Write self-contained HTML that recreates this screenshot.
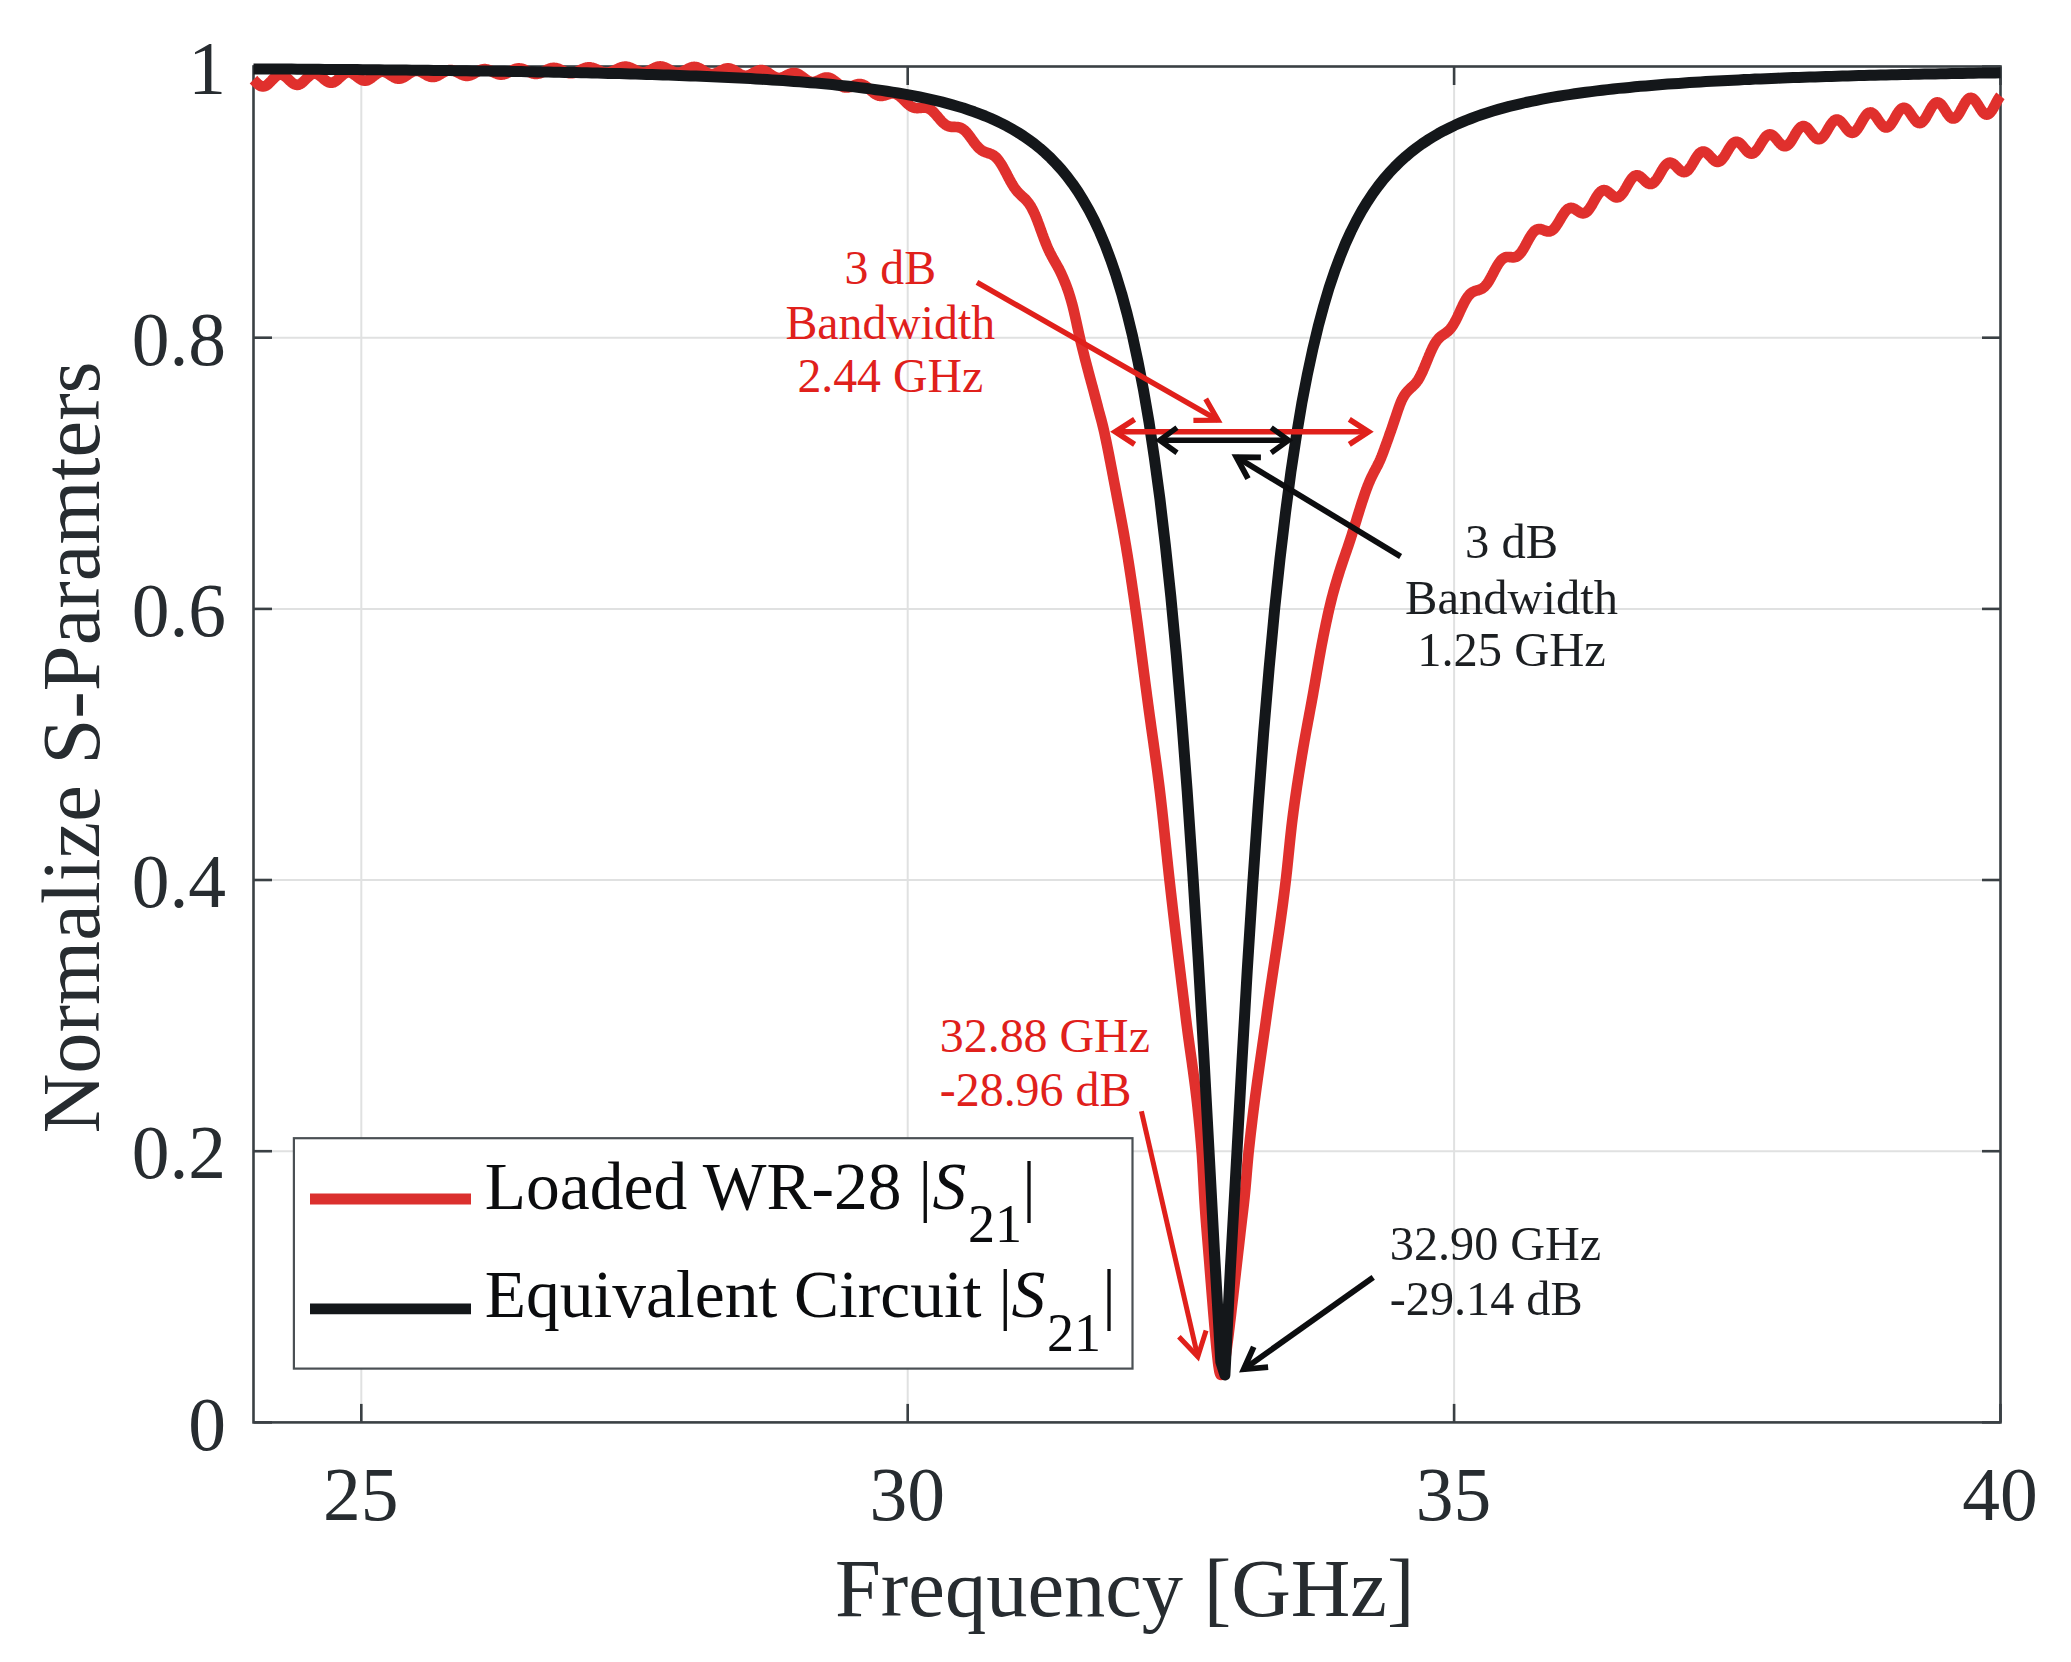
<!DOCTYPE html>
<html><head><meta charset="utf-8"><title>S-Parameters</title>
<style>
html,body{margin:0;padding:0;background:#fff;}
body{width:2071px;height:1662px;overflow:hidden;}
svg{display:block;}
text{font-family:"Liberation Serif","Times New Roman",serif;}
.tk{font-size:75.5px;fill:#272c30;}
.lb{font-size:82.5px;fill:#272c30;}
.lg{font-size:67.5px;fill:#0b0c0e;}
.an{}
</style></head><body>
<svg width="2071" height="1662" viewBox="0 0 2071 1662">
<rect width="2071" height="1662" fill="#fff"/>
<g stroke="#e0e1e1" stroke-width="2"><line x1="361.3" y1="66.5" x2="361.3" y2="1422.4"/><line x1="907.7" y1="66.5" x2="907.7" y2="1422.4"/><line x1="1454.1" y1="66.5" x2="1454.1" y2="1422.4"/><line x1="253.5" y1="1151.2" x2="2000.5" y2="1151.2"/><line x1="253.5" y1="880.0" x2="2000.5" y2="880.0"/><line x1="253.5" y1="608.9" x2="2000.5" y2="608.9"/><line x1="253.5" y1="337.7" x2="2000.5" y2="337.7"/></g>
<g stroke="#3a4044" stroke-width="2.6" fill="none"><rect x="253.5" y="66.5" width="1747.0" height="1355.9"/><line x1="361.3" y1="1422.4" x2="361.3" y2="1403.9"/><line x1="361.3" y1="66.5" x2="361.3" y2="85.0"/><line x1="907.7" y1="1422.4" x2="907.7" y2="1403.9"/><line x1="907.7" y1="66.5" x2="907.7" y2="85.0"/><line x1="1454.1" y1="1422.4" x2="1454.1" y2="1403.9"/><line x1="1454.1" y1="66.5" x2="1454.1" y2="85.0"/><line x1="2000.5" y1="1422.4" x2="2000.5" y2="1403.9"/><line x1="2000.5" y1="66.5" x2="2000.5" y2="85.0"/><line x1="253.5" y1="1422.4" x2="272.0" y2="1422.4"/><line x1="2000.5" y1="1422.4" x2="1982.0" y2="1422.4"/><line x1="253.5" y1="1151.2" x2="272.0" y2="1151.2"/><line x1="2000.5" y1="1151.2" x2="1982.0" y2="1151.2"/><line x1="253.5" y1="880.0" x2="272.0" y2="880.0"/><line x1="2000.5" y1="880.0" x2="1982.0" y2="880.0"/><line x1="253.5" y1="608.9" x2="272.0" y2="608.9"/><line x1="2000.5" y1="608.9" x2="1982.0" y2="608.9"/><line x1="253.5" y1="337.7" x2="272.0" y2="337.7"/><line x1="2000.5" y1="337.7" x2="1982.0" y2="337.7"/><line x1="253.5" y1="66.5" x2="272.0" y2="66.5"/><line x1="2000.5" y1="66.5" x2="1982.0" y2="66.5"/></g>
<text class="tk" x="360.8" y="1519.8" text-anchor="middle">25</text>
<text class="tk" x="907.2" y="1519.8" text-anchor="middle">30</text>
<text class="tk" x="1453.6" y="1519.8" text-anchor="middle">35</text>
<text class="tk" x="2000.0" y="1519.8" text-anchor="middle">40</text>
<text class="tk" x="226.1" y="1449.6" text-anchor="end">0</text>
<text class="tk" x="226.1" y="1178.4" text-anchor="end">0.2</text>
<text class="tk" x="226.1" y="907.2" text-anchor="end">0.4</text>
<text class="tk" x="226.1" y="636.1" text-anchor="end">0.6</text>
<text class="tk" x="226.1" y="364.9" text-anchor="end">0.8</text>
<text class="tk" x="226.1" y="93.7" text-anchor="end">1</text>
<text class="lb" x="1124.7" y="1616" text-anchor="middle">Frequency [GHz]</text>
<text class="lb" transform="translate(98.6,747.3) rotate(-90)" text-anchor="middle">Normalize S-Paramters</text>
<polyline points="253.5,79.6 254.0,80.1 254.5,80.7 255.0,81.2 255.5,81.7 256.0,82.3 256.5,82.8 257.0,83.3 257.5,83.7 258.0,84.2 258.5,84.6 259.0,84.9 259.5,85.3 260.0,85.6 260.5,85.8 261.0,86.1 261.5,86.2 262.0,86.4 262.5,86.4 263.0,86.5 263.5,86.4 264.0,86.4 264.5,86.2 265.0,86.1 265.5,85.9 266.0,85.6 266.5,85.3 267.0,85.0 267.5,84.6 268.0,84.2 268.5,83.7 269.0,83.3 269.5,82.8 270.0,82.3 270.5,81.8 271.0,81.2 271.5,80.7 272.0,80.1 272.5,79.6 273.0,79.1 273.5,78.6 274.0,78.1 274.5,77.6 275.0,77.1 275.5,76.7 276.0,76.3 276.5,75.9 277.0,75.6 277.5,75.3 278.0,75.1 278.5,74.9 279.0,74.7 279.5,74.6 280.0,74.5 280.5,74.5 281.0,74.5 281.5,74.6 282.0,74.7 282.5,74.9 283.0,75.1 283.5,75.4 284.0,75.6 284.5,76.0 285.0,76.3 285.5,76.7 286.0,77.1 286.5,77.5 287.0,78.0 287.5,78.5 288.0,78.9 288.5,79.4 289.0,79.9 289.5,80.4 290.0,80.9 290.5,81.3 291.0,81.8 291.5,82.2 292.0,82.6 292.5,83.0 293.0,83.4 293.5,83.7 294.0,84.0 294.5,84.2 295.0,84.4 295.5,84.6 296.0,84.7 296.5,84.8 297.0,84.8 297.5,84.8 298.0,84.8 298.5,84.7 299.0,84.5 299.5,84.3 300.0,84.1 300.5,83.8 301.0,83.5 301.5,83.2 302.0,82.8 302.5,82.4 303.0,82.0 303.5,81.5 304.0,81.0 304.5,80.5 305.0,80.0 305.5,79.5 306.0,79.0 306.5,78.5 307.0,78.0 307.5,77.5 308.0,77.1 308.5,76.6 309.0,76.2 309.5,75.8 310.0,75.4 310.5,75.0 311.0,74.7 311.5,74.4 312.0,74.2 312.5,74.0 313.0,73.8 313.5,73.7 314.0,73.6 314.5,73.5 315.0,73.6 315.5,73.6 316.0,73.7 316.5,73.8 317.0,74.0 317.5,74.2 318.0,74.5 318.5,74.8 319.0,75.1 319.5,75.4 320.0,75.8 320.5,76.2 321.0,76.6 321.5,77.0 322.0,77.4 322.5,77.8 323.0,78.3 323.5,78.7 324.0,79.2 324.5,79.6 325.0,80.0 325.5,80.4 326.0,80.7 326.5,81.1 327.0,81.4 327.5,81.7 328.0,82.0 328.5,82.2 329.0,82.4 329.5,82.5 330.0,82.6 330.5,82.7 331.0,82.7 331.5,82.7 332.0,82.7 332.5,82.6 333.0,82.4 333.5,82.3 334.0,82.0 334.5,81.8 335.0,81.5 335.5,81.2 336.0,80.8 336.5,80.5 337.0,80.1 337.5,79.7 338.0,79.2 338.5,78.8 339.0,78.3 339.5,77.8 340.0,77.4 340.5,76.9 341.0,76.5 341.5,76.0 342.0,75.6 342.5,75.1 343.0,74.7 343.5,74.4 344.0,74.0 344.5,73.7 345.0,73.4 345.5,73.1 346.0,72.9 346.5,72.7 347.0,72.6 347.5,72.5 348.0,72.4 348.5,72.4 349.0,72.4 349.5,72.4 350.0,72.5 350.5,72.6 351.0,72.8 351.5,73.0 352.0,73.2 352.5,73.5 353.0,73.8 353.5,74.1 354.0,74.4 354.5,74.8 355.0,75.2 355.5,75.5 356.0,75.9 356.5,76.3 357.0,76.7 357.5,77.1 358.0,77.5 358.5,77.9 359.0,78.2 359.5,78.6 360.0,78.9 360.5,79.2 361.0,79.5 361.5,79.8 362.0,80.0 362.5,80.2 363.0,80.3 363.5,80.5 364.0,80.6 364.5,80.6 365.0,80.6 365.5,80.6 366.0,80.6 366.5,80.5 367.0,80.3 367.5,80.2 368.0,80.0 368.5,79.7 369.0,79.5 369.5,79.2 370.0,78.9 370.5,78.5 371.0,78.2 371.5,77.8 372.0,77.4 372.5,77.0 373.0,76.6 373.5,76.2 374.0,75.8 374.5,75.4 375.0,75.0 375.5,74.7 376.0,74.3 376.5,73.9 377.0,73.6 377.5,73.3 378.0,73.0 378.5,72.7 379.0,72.5 379.5,72.3 380.0,72.1 380.5,71.9 381.0,71.8 381.5,71.7 382.0,71.7 382.5,71.7 383.0,71.7 383.5,71.8 384.0,71.8 384.5,72.0 385.0,72.1 385.5,72.3 386.0,72.5 386.5,72.7 387.0,73.0 387.5,73.2 388.0,73.5 388.5,73.8 389.0,74.1 389.5,74.5 390.0,74.8 390.5,75.1 391.0,75.5 391.5,75.8 392.0,76.1 392.5,76.4 393.0,76.7 393.5,77.0 394.0,77.3 394.5,77.6 395.0,77.8 395.5,78.0 396.0,78.2 396.5,78.3 397.0,78.5 397.5,78.6 398.0,78.6 398.5,78.7 399.0,78.7 399.5,78.6 400.0,78.6 400.5,78.5 401.0,78.4 401.5,78.2 402.0,78.0 402.5,77.8 403.0,77.6 403.5,77.3 404.0,77.1 404.5,76.8 405.0,76.5 405.5,76.1 406.0,75.8 406.5,75.5 407.0,75.1 407.5,74.8 408.0,74.4 408.5,74.1 409.0,73.7 409.5,73.4 410.0,73.1 410.5,72.8 411.0,72.5 411.5,72.2 412.0,72.0 412.5,71.7 413.0,71.5 413.5,71.4 414.0,71.2 414.5,71.1 415.0,71.0 415.5,70.9 416.0,70.9 416.5,70.9 417.0,70.9 417.5,70.9 418.0,71.0 418.5,71.1 419.0,71.2 419.5,71.4 420.0,71.6 420.5,71.8 421.0,72.0 421.5,72.2 422.0,72.5 422.5,72.7 423.0,73.0 423.5,73.3 424.0,73.6 424.5,73.9 425.0,74.2 425.5,74.5 426.0,74.7 426.5,75.0 427.0,75.3 427.5,75.5 428.0,75.8 428.5,76.0 429.0,76.2 429.5,76.4 430.0,76.5 430.5,76.7 431.0,76.8 431.5,76.8 432.0,76.9 432.5,76.9 433.0,76.9 433.5,76.9 434.0,76.9 434.5,76.8 435.0,76.7 435.5,76.5 436.0,76.4 436.5,76.2 437.0,76.0 437.5,75.8 438.0,75.5 438.5,75.3 439.0,75.0 439.5,74.7 440.0,74.4 440.5,74.1 441.0,73.8 441.5,73.5 442.0,73.2 442.5,72.9 443.0,72.6 443.5,72.3 444.0,72.0 444.5,71.8 445.0,71.5 445.5,71.3 446.0,71.0 446.5,70.8 447.0,70.6 447.5,70.5 448.0,70.4 448.5,70.2 449.0,70.2 449.5,70.1 450.0,70.1 450.5,70.1 451.0,70.1 451.5,70.1 452.0,70.2 452.5,70.3 453.0,70.4 453.5,70.6 454.0,70.7 454.5,70.9 455.0,71.1 455.5,71.3 456.0,71.6 456.5,71.8 457.0,72.1 457.5,72.4 458.0,72.6 458.5,72.9 459.0,73.2 459.5,73.4 460.0,73.7 460.5,74.0 461.0,74.2 461.5,74.5 462.0,74.7 462.5,74.9 463.0,75.1 463.5,75.3 464.0,75.4 464.5,75.6 465.0,75.7 465.5,75.8 466.0,75.8 466.5,75.9 467.0,75.9 467.5,75.8 468.0,75.8 468.5,75.7 469.0,75.6 469.5,75.5 470.0,75.4 470.5,75.2 471.0,75.0 471.5,74.8 472.0,74.6 472.5,74.3 473.0,74.1 473.5,73.8 474.0,73.5 474.5,73.3 475.0,73.0 475.5,72.7 476.0,72.4 476.5,72.1 477.0,71.8 477.5,71.5 478.0,71.2 478.5,71.0 479.0,70.7 479.5,70.5 480.0,70.2 480.5,70.0 481.0,69.9 481.5,69.7 482.0,69.5 482.5,69.4 483.0,69.3 483.5,69.3 484.0,69.2 484.5,69.2 485.0,69.2 485.5,69.2 486.0,69.3 486.5,69.4 487.0,69.5 487.5,69.6 488.0,69.7 488.5,69.9 489.0,70.1 489.5,70.3 490.0,70.5 490.5,70.7 491.0,71.0 491.5,71.2 492.0,71.5 492.5,71.7 493.0,72.0 493.5,72.2 494.0,72.5 494.5,72.7 495.0,73.0 495.5,73.2 496.0,73.4 496.5,73.6 497.0,73.8 497.5,74.0 498.0,74.1 498.5,74.3 499.0,74.4 499.5,74.5 500.0,74.6 500.5,74.6 501.0,74.6 501.5,74.6 502.0,74.6 502.5,74.5 503.0,74.5 503.5,74.4 504.0,74.2 504.5,74.1 505.0,73.9 505.5,73.8 506.0,73.6 506.5,73.3 507.0,73.1 507.5,72.9 508.0,72.6 508.5,72.4 509.0,72.1 509.5,71.8 510.0,71.5 510.5,71.3 511.0,71.0 511.5,70.7 512.0,70.5 512.5,70.2 513.0,70.0 513.5,69.7 514.0,69.5 514.5,69.3 515.0,69.1 515.5,69.0 516.0,68.8 516.5,68.7 517.0,68.6 517.5,68.5 518.0,68.4 518.5,68.4 519.0,68.4 519.5,68.4 520.0,68.5 520.5,68.5 521.0,68.6 521.5,68.7 522.0,68.8 522.5,69.0 523.0,69.2 523.5,69.3 524.0,69.5 524.5,69.8 525.0,70.0 525.5,70.2 526.0,70.5 526.5,70.7 527.0,71.0 527.5,71.2 528.0,71.5 528.5,71.7 529.0,72.0 529.5,72.2 530.0,72.4 530.5,72.6 531.0,72.8 531.5,73.0 532.0,73.2 532.5,73.4 533.0,73.5 533.5,73.6 534.0,73.7 534.5,73.8 535.0,73.9 535.5,73.9 536.0,73.9 536.5,73.9 537.0,73.8 537.5,73.8 538.0,73.7 538.5,73.6 539.0,73.5 539.5,73.3 540.0,73.2 540.5,73.0 541.0,72.8 541.5,72.6 542.0,72.3 542.5,72.1 543.0,71.8 543.5,71.6 544.0,71.3 544.5,71.1 545.0,70.8 545.5,70.5 546.0,70.3 546.5,70.0 547.0,69.8 547.5,69.5 548.0,69.3 548.5,69.1 549.0,68.9 549.5,68.7 550.0,68.5 550.5,68.4 551.0,68.2 551.5,68.1 552.0,68.0 552.5,68.0 553.0,67.9 553.5,67.9 554.0,67.9 554.5,67.9 555.0,68.0 555.5,68.0 556.0,68.1 556.5,68.2 557.0,68.4 557.5,68.5 558.0,68.7 558.5,68.8 559.0,69.0 559.5,69.2 560.0,69.5 560.5,69.7 561.0,69.9 561.5,70.2 562.0,70.4 562.5,70.6 563.0,70.9 563.5,71.1 564.0,71.4 564.5,71.6 565.0,71.8 565.5,72.0 566.0,72.2 566.5,72.4 567.0,72.6 567.5,72.7 568.0,72.9 568.5,73.0 569.0,73.1 569.5,73.2 570.0,73.2 570.5,73.2 571.0,73.2 571.5,73.2 572.0,73.2 572.5,73.1 573.0,73.1 573.5,73.0 574.0,72.8 574.5,72.7 575.0,72.6 575.5,72.4 576.0,72.2 576.5,72.0 577.0,71.8 577.5,71.5 578.0,71.3 578.5,71.1 579.0,70.8 579.5,70.5 580.0,70.3 580.5,70.0 581.0,69.8 581.5,69.5 582.0,69.3 582.5,69.0 583.0,68.8 583.5,68.6 584.0,68.4 584.5,68.2 585.0,68.0 585.5,67.9 586.0,67.7 586.5,67.6 587.0,67.5 587.5,67.4 588.0,67.4 588.5,67.3 589.0,67.3 589.5,67.3 590.0,67.3 590.5,67.4 591.0,67.5 591.5,67.5 592.0,67.7 592.5,67.8 593.0,67.9 593.5,68.1 594.0,68.3 594.5,68.5 595.0,68.7 595.5,68.9 596.0,69.1 596.5,69.3 597.0,69.6 597.5,69.8 598.0,70.0 598.5,70.3 599.0,70.5 599.5,70.7 600.0,70.9 600.5,71.2 601.0,71.4 601.5,71.6 602.0,71.7 602.5,71.9 603.0,72.1 603.5,72.2 604.0,72.3 604.5,72.4 605.0,72.5 605.5,72.6 606.0,72.6 606.5,72.6 607.0,72.6 607.5,72.6 608.0,72.5 608.5,72.5 609.0,72.4 609.5,72.3 610.0,72.1 610.5,72.0 611.0,71.8 611.5,71.7 612.0,71.5 612.5,71.3 613.0,71.1 613.5,70.9 614.0,70.6 614.5,70.4 615.0,70.2 615.5,69.9 616.0,69.7 616.5,69.4 617.0,69.2 617.5,68.9 618.0,68.7 618.5,68.5 619.0,68.2 619.5,68.0 620.0,67.8 620.5,67.6 621.0,67.5 621.5,67.3 622.0,67.2 622.5,67.0 623.0,66.9 623.5,66.8 624.0,66.8 624.5,66.7 625.0,66.7 625.5,66.7 626.0,66.7 626.5,66.7 627.0,66.8 627.5,66.9 628.0,67.0 628.5,67.1 629.0,67.2 629.5,67.4 630.0,67.6 630.5,67.8 631.0,68.0 631.5,68.2 632.0,68.4 632.5,68.6 633.0,68.9 633.5,69.1 634.0,69.4 634.5,69.6 635.0,69.9 635.5,70.1 636.0,70.4 636.5,70.6 637.0,70.8 637.5,71.1 638.0,71.3 638.5,71.5 639.0,71.6 639.5,71.8 640.0,71.9 640.5,72.1 641.0,72.2 641.5,72.2 642.0,72.3 642.5,72.3 643.0,72.3 643.5,72.3 644.0,72.3 644.5,72.2 645.0,72.1 645.5,72.0 646.0,71.9 646.5,71.8 647.0,71.6 647.5,71.4 648.0,71.2 648.5,71.0 649.0,70.8 649.5,70.5 650.0,70.3 650.5,70.0 651.0,69.8 651.5,69.5 652.0,69.2 652.5,69.0 653.0,68.7 653.5,68.5 654.0,68.2 654.5,68.0 655.0,67.7 655.5,67.5 656.0,67.3 656.5,67.1 657.0,67.0 657.5,66.8 658.0,66.7 658.5,66.6 659.0,66.5 659.5,66.5 660.0,66.4 660.5,66.4 661.0,66.5 661.5,66.5 662.0,66.6 662.5,66.7 663.0,66.8 663.5,66.9 664.0,67.1 664.5,67.3 665.0,67.5 665.5,67.7 666.0,67.9 666.5,68.2 667.0,68.4 667.5,68.7 668.0,69.0 668.5,69.2 669.0,69.5 669.5,69.8 670.0,70.1 670.5,70.4 671.0,70.6 671.5,70.9 672.0,71.2 672.5,71.4 673.0,71.6 673.5,71.8 674.0,72.0 674.5,72.2 675.0,72.4 675.5,72.5 676.0,72.6 676.5,72.7 677.0,72.7 677.5,72.7 678.0,72.7 678.5,72.7 679.0,72.7 679.5,72.6 680.0,72.5 680.5,72.4 681.0,72.2 681.5,72.1 682.0,71.9 682.5,71.7 683.0,71.5 683.5,71.2 684.0,71.0 684.5,70.7 685.0,70.4 685.5,70.2 686.0,69.9 686.5,69.6 687.0,69.4 687.5,69.1 688.0,68.8 688.5,68.6 689.0,68.3 689.5,68.1 690.0,67.9 690.5,67.7 691.0,67.5 691.5,67.4 692.0,67.2 692.5,67.1 693.0,67.0 693.5,67.0 694.0,66.9 694.5,66.9 695.0,67.0 695.5,67.0 696.0,67.1 696.5,67.2 697.0,67.3 697.5,67.5 698.0,67.7 698.5,67.9 699.0,68.1 699.5,68.3 700.0,68.6 700.5,68.9 701.0,69.2 701.5,69.5 702.0,69.8 702.5,70.1 703.0,70.4 703.5,70.7 704.0,71.1 704.5,71.4 705.0,71.7 705.5,72.0 706.0,72.3 706.5,72.5 707.0,72.8 707.5,73.0 708.0,73.2 708.5,73.4 709.0,73.6 709.5,73.8 710.0,73.9 710.5,74.0 711.0,74.0 711.5,74.1 712.0,74.1 712.5,74.1 713.0,74.0 713.5,74.0 714.0,73.9 714.5,73.7 715.0,73.6 715.5,73.4 716.0,73.2 716.5,73.0 717.0,72.8 717.5,72.6 718.0,72.3 718.5,72.0 719.0,71.8 719.5,71.5 720.0,71.2 720.5,70.9 721.0,70.7 721.5,70.4 722.0,70.1 722.5,69.9 723.0,69.6 723.5,69.4 724.0,69.2 724.5,69.0 725.0,68.8 725.5,68.7 726.0,68.6 726.5,68.5 727.0,68.4 727.5,68.4 728.0,68.4 728.5,68.4 729.0,68.4 729.5,68.5 730.0,68.6 730.5,68.7 731.0,68.9 731.5,69.1 732.0,69.3 732.5,69.5 733.0,69.8 733.5,70.0 734.0,70.3 734.5,70.6 735.0,70.9 735.5,71.3 736.0,71.6 736.5,71.9 737.0,72.3 737.5,72.6 738.0,72.9 738.5,73.2 739.0,73.6 739.5,73.9 740.0,74.1 740.5,74.4 741.0,74.7 741.5,74.9 742.0,75.1 742.5,75.3 743.0,75.4 743.5,75.6 744.0,75.7 744.5,75.7 745.0,75.8 745.5,75.8 746.0,75.8 746.5,75.8 747.0,75.7 747.5,75.6 748.0,75.5 748.5,75.3 749.0,75.1 749.5,74.9 750.0,74.7 750.5,74.5 751.0,74.3 751.5,74.0 752.0,73.7 752.5,73.5 753.0,73.2 753.5,72.9 754.0,72.6 754.5,72.3 755.0,72.1 755.5,71.8 756.0,71.5 756.5,71.3 757.0,71.1 757.5,70.9 758.0,70.7 758.5,70.5 759.0,70.4 759.5,70.3 760.0,70.2 760.5,70.1 761.0,70.1 761.5,70.1 762.0,70.1 762.5,70.2 763.0,70.3 763.5,70.4 764.0,70.6 764.5,70.8 765.0,71.0 765.5,71.2 766.0,71.4 766.5,71.7 767.0,72.0 767.5,72.3 768.0,72.6 768.5,72.9 769.0,73.3 769.5,73.6 770.0,74.0 770.5,74.3 771.0,74.7 771.5,75.0 772.0,75.4 772.5,75.7 773.0,76.0 773.5,76.3 774.0,76.6 774.5,76.8 775.0,77.0 775.5,77.3 776.0,77.4 776.5,77.6 777.0,77.7 777.5,77.8 778.0,77.9 778.5,78.0 779.0,78.0 779.5,78.0 780.0,77.9 780.5,77.9 781.0,77.8 781.5,77.6 782.0,77.5 782.5,77.3 783.0,77.1 783.5,76.9 784.0,76.7 784.5,76.5 785.0,76.2 785.5,76.0 786.0,75.7 786.5,75.5 787.0,75.2 787.5,74.9 788.0,74.7 788.5,74.4 789.0,74.2 789.5,74.0 790.0,73.8 790.5,73.6 791.0,73.4 791.5,73.3 792.0,73.2 792.5,73.1 793.0,73.0 793.5,73.0 794.0,73.0 794.5,73.0 795.0,73.0 795.5,73.1 796.0,73.2 796.5,73.4 797.0,73.5 797.5,73.7 798.0,74.0 798.5,74.2 799.0,74.5 799.5,74.8 800.0,75.1 800.5,75.5 801.0,75.8 801.5,76.2 802.0,76.5 802.5,76.9 803.0,77.3 803.5,77.7 804.0,78.1 804.5,78.4 805.0,78.8 805.5,79.2 806.0,79.5 806.5,79.9 807.0,80.2 807.5,80.5 808.0,80.8 808.5,81.0 809.0,81.2 809.5,81.4 810.0,81.6 810.5,81.7 811.0,81.9 811.5,81.9 812.0,82.0 812.5,82.0 813.0,82.0 813.5,82.0 814.0,81.9 814.5,81.8 815.0,81.7 815.5,81.6 816.0,81.4 816.5,81.2 817.0,81.1 817.5,80.8 818.0,80.6 818.5,80.4 819.0,80.1 819.5,79.9 820.0,79.7 820.5,79.4 821.0,79.2 821.5,78.9 822.0,78.7 822.5,78.5 823.0,78.3 823.5,78.1 824.0,78.0 824.5,77.8 825.0,77.7 825.5,77.6 826.0,77.6 826.5,77.5 827.0,77.5 827.5,77.6 828.0,77.6 828.5,77.7 829.0,77.8 829.5,78.0 830.0,78.1 830.5,78.3 831.0,78.6 831.5,78.8 832.0,79.1 832.5,79.4 833.0,79.8 833.5,80.1 834.0,80.5 834.5,80.8 835.0,81.2 835.5,81.6 836.0,82.0 836.5,82.4 837.0,82.8 837.5,83.2 838.0,83.6 838.5,84.0 839.0,84.4 839.5,84.8 840.0,85.1 840.5,85.5 841.0,85.8 841.5,86.1 842.0,86.3 842.5,86.6 843.0,86.8 843.5,87.0 844.0,87.2 844.5,87.3 845.0,87.4 845.5,87.5 846.0,87.5 846.5,87.5 847.0,87.5 847.5,87.5 848.0,87.4 848.5,87.3 849.0,87.2 849.5,87.1 850.0,87.0 850.5,86.8 851.0,86.6 851.5,86.4 852.0,86.2 852.5,86.0 853.0,85.8 853.5,85.6 854.0,85.4 854.5,85.2 855.0,85.0 855.5,84.9 856.0,84.7 856.5,84.5 857.0,84.4 857.5,84.3 858.0,84.2 858.5,84.1 859.0,84.1 859.5,84.0 860.0,84.1 860.5,84.1 861.0,84.2 861.5,84.3 862.0,84.4 862.5,84.5 863.0,84.7 863.5,84.9 864.0,85.2 864.5,85.4 865.0,85.7 865.5,86.1 866.0,86.4 866.5,86.8 867.0,87.2 867.5,87.6 868.0,88.0 868.5,88.4 869.0,88.8 869.5,89.3 870.0,89.7 870.5,90.2 871.0,90.6 871.5,91.1 872.0,91.5 872.5,91.9 873.0,92.3 873.5,92.8 874.0,93.1 874.5,93.5 875.0,93.8 875.5,94.2 876.0,94.5 876.5,94.7 877.0,95.0 877.5,95.2 878.0,95.4 878.5,95.5 879.0,95.7 879.5,95.8 880.0,95.8 880.5,95.9 881.0,95.9 881.5,95.9 882.0,95.9 882.5,95.8 883.0,95.7 883.5,95.6 884.0,95.5 884.5,95.4 885.0,95.3 885.5,95.1 886.0,94.9 886.5,94.8 887.0,94.6 887.5,94.4 888.0,94.3 888.5,94.1 889.0,94.0 889.5,93.8 890.0,93.7 890.5,93.6 891.0,93.5 891.5,93.5 892.0,93.4 892.5,93.4 893.0,93.4 893.5,93.4 894.0,93.5 894.5,93.6 895.0,93.7 895.5,93.9 896.0,94.0 896.5,94.2 897.0,94.5 897.5,94.8 898.0,95.1 898.5,95.4 899.0,95.7 899.5,96.1 900.0,96.5 900.5,96.9 901.0,97.4 901.5,97.8 902.0,98.3 902.5,98.8 903.0,99.3 903.5,99.8 904.0,100.3 904.5,100.8 905.0,101.3 905.5,101.8 906.0,102.3 906.5,102.7 907.0,103.2 907.5,103.7 908.0,104.1 908.5,104.5 909.0,104.9 909.5,105.3 910.0,105.7 910.5,106.0 911.0,106.3 911.5,106.6 912.0,106.8 912.5,107.1 913.0,107.3 913.5,107.5 914.0,107.6 914.5,107.8 915.0,107.9 915.5,108.0 916.0,108.0 916.5,108.1 917.0,108.1 917.5,108.1 918.0,108.1 918.5,108.0 919.0,108.0 919.5,108.0 920.0,107.9 920.5,107.9 921.0,107.8 921.5,107.7 922.0,107.7 922.5,107.7 923.0,107.6 923.5,107.6 924.0,107.6 924.5,107.6 925.0,107.6 925.5,107.7 926.0,107.7 926.5,107.8 927.0,107.9 927.5,108.1 928.0,108.3 928.5,108.5 929.0,108.7 929.5,109.0 930.0,109.2 930.5,109.6 931.0,109.9 931.5,110.3 932.0,110.7 932.5,111.1 933.0,111.6 933.5,112.1 934.0,112.6 934.5,113.1 935.0,113.7 935.5,114.2 936.0,114.8 936.5,115.4 937.0,116.0 937.5,116.6 938.0,117.1 938.5,117.7 939.0,118.3 939.5,118.9 940.0,119.5 940.5,120.1 941.0,120.6 941.5,121.2 942.0,121.7 942.5,122.2 943.0,122.7 943.5,123.1 944.0,123.5 944.5,123.9 945.0,124.3 945.5,124.7 946.0,125.0 946.5,125.3 947.0,125.6 947.5,125.8 948.0,126.0 948.5,126.2 949.0,126.4 949.5,126.5 950.0,126.6 950.5,126.7 951.0,126.8 951.5,126.8 952.0,126.9 952.5,126.9 953.0,126.9 953.5,126.9 954.0,126.9 954.5,126.9 955.0,126.9 955.5,127.0 956.0,127.0 956.5,127.0 957.0,127.0 957.5,127.1 958.0,127.2 958.5,127.2 959.0,127.4 959.5,127.5 960.0,127.6 960.5,127.8 961.0,128.0 961.5,128.3 962.0,128.5 962.5,128.8 963.0,129.2 963.5,129.5 964.0,129.9 964.5,130.4 965.0,130.8 965.5,131.3 966.0,131.8 966.5,132.4 967.0,132.9 967.5,133.5 968.0,134.1 968.5,134.7 969.0,135.4 969.5,136.1 970.0,136.7 970.5,137.4 971.0,138.1 971.5,138.8 972.0,139.5 972.5,140.2 973.0,140.9 973.5,141.6 974.0,142.3 974.5,142.9 975.0,143.6 975.5,144.2 976.0,144.8 976.5,145.4 977.0,146.0 977.5,146.6 978.0,147.1 978.5,147.6 979.0,148.1 979.5,148.6 980.0,149.0 980.5,149.4 981.0,149.8 981.5,150.2 982.0,150.5 982.5,150.8 983.0,151.1 983.5,151.3 984.0,151.6 984.5,151.8 985.0,152.0 985.5,152.2 986.0,152.4 986.5,152.5 987.0,152.7 987.5,152.9 988.0,153.0 988.5,153.2 989.0,153.3 989.5,153.5 990.0,153.7 990.5,153.9 991.0,154.1 991.5,154.3 992.0,154.5 992.5,154.8 993.0,155.1 993.5,155.4 994.0,155.7 994.5,156.1 995.0,156.5 995.5,156.9 996.0,157.4 996.5,157.9 997.0,158.4 997.5,159.0 998.0,159.6 998.5,160.2 999.0,160.8 999.5,161.5 1000.0,162.3 1000.5,163.0 1001.0,163.8 1001.5,164.6 1002.0,165.4 1002.5,166.3 1003.0,167.2 1003.5,168.1 1004.0,169.0 1004.5,169.9 1005.0,170.8 1005.5,171.8 1006.0,172.7 1006.5,173.7 1007.0,174.6 1007.5,175.6 1008.0,176.6 1008.5,177.5 1009.0,178.5 1009.5,179.4 1010.0,180.3 1010.5,181.3 1011.0,182.2 1011.5,183.0 1012.0,183.9 1012.5,184.7 1013.0,185.5 1013.5,186.3 1014.0,187.1 1014.5,187.8 1015.0,188.5 1015.5,189.2 1016.0,189.9 1016.5,190.5 1017.0,191.1 1017.5,191.7 1018.0,192.3 1018.5,192.8 1019.0,193.3 1019.5,193.8 1020.0,194.3 1020.5,194.8 1021.0,195.3 1021.5,195.7 1022.0,196.2 1022.5,196.6 1023.0,197.1 1023.5,197.5 1024.0,198.0 1024.5,198.4 1025.0,198.9 1025.5,199.4 1026.0,199.9 1026.5,200.5 1027.0,201.1 1027.5,201.7 1028.0,202.3 1028.5,202.9 1029.0,203.6 1029.5,204.4 1030.0,205.1 1030.5,205.9 1031.0,206.7 1031.5,207.6 1032.0,208.5 1032.5,209.5 1033.0,210.5 1033.5,211.5 1034.0,212.5 1034.5,213.6 1035.0,214.8 1035.5,215.9 1036.0,217.1 1036.5,218.4 1037.0,219.6 1037.5,220.9 1038.0,222.3 1038.5,223.6 1039.0,224.9 1039.5,226.3 1040.0,227.7 1040.5,229.1 1041.0,230.5 1041.5,231.8 1042.0,233.2 1042.5,234.6 1043.0,235.9 1043.5,237.3 1044.0,238.6 1044.5,240.0 1045.0,241.2 1045.5,242.5 1046.0,243.8 1046.5,245.0 1047.0,246.2 1047.5,247.4 1048.0,248.5 1048.5,249.6 1049.0,250.7 1049.5,251.7 1050.0,252.8 1050.5,253.7 1051.0,254.7 1051.5,255.7 1052.0,256.6 1052.5,257.5 1053.0,258.4 1053.5,259.3 1054.0,260.2 1054.5,261.1 1055.0,262.0 1055.5,262.8 1056.0,263.7 1056.5,264.6 1057.0,265.5 1057.5,266.4 1058.0,267.3 1058.5,268.2 1059.0,269.2 1059.5,270.1 1060.0,271.1 1060.5,272.2 1061.0,273.2 1061.5,274.3 1062.0,275.4 1062.5,276.5 1063.0,277.6 1063.5,278.8 1064.0,280.0 1064.5,281.2 1065.0,282.4 1065.5,283.6 1066.0,284.9 1066.5,286.2 1067.0,287.6 1067.5,289.0 1068.0,290.4 1068.5,291.9 1069.0,293.4 1069.5,295.0 1070.0,296.6 1070.5,298.3 1071.0,300.0 1071.5,301.7 1072.0,303.5 1072.5,305.4 1073.0,307.4 1073.5,309.4 1074.0,311.5 1074.5,313.7 1075.0,315.9 1075.5,318.1 1076.0,320.4 1076.5,322.7 1077.0,325.0 1077.5,327.2 1078.0,329.5 1078.5,331.8 1079.0,334.1 1079.5,336.3 1080.0,338.4 1080.5,340.6 1081.0,342.7 1081.5,344.7 1082.0,346.7 1082.5,348.8 1083.0,350.8 1083.5,352.8 1084.0,354.7 1084.5,356.7 1085.0,358.7 1085.5,360.6 1086.0,362.5 1086.5,364.4 1087.0,366.3 1087.5,368.2 1088.0,370.1 1088.5,372.0 1089.0,373.9 1089.5,375.7 1090.0,377.6 1090.5,379.4 1091.0,381.3 1091.5,383.1 1092.0,385.0 1092.5,386.8 1093.0,388.6 1093.5,390.5 1094.0,392.4 1094.5,394.3 1095.0,396.1 1095.5,398.1 1096.0,400.0 1096.5,401.9 1097.0,403.8 1097.5,405.7 1098.0,407.7 1098.5,409.6 1099.0,411.5 1099.5,413.3 1100.0,415.2 1100.5,417.0 1101.0,418.8 1101.5,420.7 1102.0,422.6 1102.5,424.6 1103.0,426.6 1103.5,428.7 1104.0,430.9 1104.5,433.1 1105.0,435.5 1105.5,437.8 1106.0,440.2 1106.5,442.6 1107.0,445.0 1107.5,447.5 1108.0,450.0 1108.5,452.5 1109.0,455.1 1109.5,457.6 1110.0,460.2 1110.5,462.8 1111.0,465.4 1111.5,468.0 1112.0,470.6 1112.5,473.2 1113.0,475.8 1113.5,478.4 1114.0,481.1 1114.5,483.7 1115.0,486.3 1115.5,489.0 1116.0,491.6 1116.5,494.3 1117.0,496.9 1117.5,499.5 1118.0,502.2 1118.5,504.8 1119.0,507.5 1119.5,510.1 1120.0,512.7 1120.5,515.4 1121.0,518.1 1121.5,520.7 1122.0,523.4 1122.5,526.1 1123.0,528.9 1123.5,531.7 1124.0,534.5 1124.5,537.4 1125.0,540.3 1125.5,543.3 1126.0,546.2 1126.5,549.3 1127.0,552.3 1127.5,555.4 1128.0,558.5 1128.5,561.7 1129.0,564.9 1129.5,568.1 1130.0,571.4 1130.5,574.7 1131.0,578.0 1131.5,581.4 1132.0,584.8 1132.5,588.2 1133.0,591.6 1133.5,595.1 1134.0,598.6 1134.5,602.1 1135.0,605.6 1135.5,609.1 1136.0,612.7 1136.5,616.3 1137.0,620.0 1137.5,623.6 1138.0,627.4 1138.5,631.1 1139.0,634.9 1139.5,638.7 1140.0,642.5 1140.5,646.3 1141.0,650.1 1141.5,654.0 1142.0,657.8 1142.5,661.7 1143.0,665.5 1143.5,669.4 1144.0,673.2 1144.5,677.0 1145.0,680.9 1145.5,684.7 1146.0,688.5 1146.5,692.3 1147.0,696.1 1147.5,699.8 1148.0,703.6 1148.5,707.3 1149.0,710.9 1149.5,714.6 1150.0,718.2 1150.5,721.8 1151.0,725.4 1151.5,728.9 1152.0,732.5 1152.5,736.0 1153.0,739.6 1153.5,743.1 1154.0,746.7 1154.5,750.3 1155.0,753.9 1155.5,757.5 1156.0,761.2 1156.5,764.9 1157.0,768.6 1157.5,772.4 1158.0,776.2 1158.5,780.1 1159.0,784.0 1159.5,788.0 1160.0,792.1 1160.5,796.3 1161.0,800.6 1161.5,805.0 1162.0,809.4 1162.5,814.0 1163.0,818.6 1163.5,823.3 1164.0,828.1 1164.5,832.8 1165.0,837.6 1165.5,842.4 1166.0,847.2 1166.5,852.1 1167.0,856.8 1167.5,861.6 1168.0,866.3 1168.5,871.0 1169.0,875.6 1169.5,880.1 1170.0,884.5 1170.5,889.0 1171.0,893.4 1171.5,897.8 1172.0,902.1 1172.5,906.5 1173.0,910.8 1173.5,915.1 1174.0,919.4 1174.5,923.7 1175.0,927.9 1175.5,932.1 1176.0,936.4 1176.5,940.6 1177.0,944.7 1177.5,948.9 1178.0,953.1 1178.5,957.2 1179.0,961.4 1179.5,965.5 1180.0,969.6 1180.5,973.7 1181.0,977.8 1181.5,982.0 1182.0,986.1 1182.5,990.2 1183.0,994.3 1183.5,998.4 1184.0,1002.5 1184.5,1006.6 1185.0,1010.7 1185.5,1014.9 1186.0,1019.0 1186.5,1023.0 1187.0,1026.9 1187.5,1030.8 1188.0,1034.5 1188.5,1038.2 1189.0,1041.8 1189.5,1045.4 1190.0,1049.0 1190.5,1052.5 1191.0,1056.1 1191.5,1059.6 1192.0,1063.1 1192.5,1066.7 1193.0,1070.3 1193.5,1074.0 1194.0,1077.7 1194.5,1081.5 1195.0,1085.4 1195.5,1089.4 1196.0,1093.5 1196.5,1097.7 1197.0,1102.0 1197.5,1106.5 1198.0,1111.1 1198.5,1115.9 1199.0,1120.9 1199.5,1126.0 1200.0,1131.3 1200.5,1136.9 1201.0,1142.7 1201.5,1148.7 1202.0,1155.4 1202.5,1163.4 1203.0,1172.5 1203.5,1181.9 1204.0,1191.3 1204.5,1200.1 1205.0,1207.8 1205.5,1214.8 1206.0,1221.5 1206.5,1227.8 1207.0,1234.0 1207.5,1240.0 1208.0,1246.1 1208.5,1252.2 1209.0,1258.4 1209.5,1264.7 1210.0,1271.0 1210.5,1277.3 1211.0,1283.6 1211.5,1289.8 1212.0,1296.0 1212.5,1302.1 1213.0,1308.2 1213.5,1314.2 1214.0,1320.1 1214.5,1326.0 1215.0,1331.6 1215.5,1337.2 1216.0,1342.7 1216.5,1348.0 1217.0,1352.8 1217.5,1357.4 1218.0,1361.8 1218.5,1365.7 1219.0,1369.0 1219.5,1371.8 1220.0,1373.5 1220.5,1374.6 1220.9,1374.9 1221.0,1374.9 1221.5,1374.4 1222.0,1373.7 1222.5,1372.3 1223.0,1370.6 1223.5,1368.5 1224.0,1366.0 1224.5,1363.3 1225.0,1360.4 1225.5,1357.3 1226.0,1353.9 1226.5,1350.3 1227.0,1346.6 1227.5,1342.9 1228.0,1339.0 1228.5,1335.0 1229.0,1330.9 1229.5,1326.8 1230.0,1322.7 1230.5,1318.5 1231.0,1314.3 1231.5,1310.0 1232.0,1305.7 1232.5,1301.4 1233.0,1297.1 1233.5,1292.7 1234.0,1288.4 1234.5,1284.1 1235.0,1279.7 1235.5,1275.3 1236.0,1271.0 1236.5,1266.6 1237.0,1262.2 1237.5,1257.9 1238.0,1253.5 1238.5,1249.2 1239.0,1244.8 1239.5,1240.4 1240.0,1236.1 1240.5,1231.7 1241.0,1227.4 1241.5,1223.1 1242.0,1218.9 1242.5,1214.8 1243.0,1210.6 1243.5,1206.3 1244.0,1201.9 1244.5,1197.3 1245.0,1192.5 1245.5,1187.2 1246.0,1181.5 1246.5,1175.6 1247.0,1169.6 1247.5,1163.8 1248.0,1158.2 1248.5,1153.1 1249.0,1148.4 1249.5,1143.9 1250.0,1139.4 1250.5,1135.0 1251.0,1130.7 1251.5,1126.5 1252.0,1122.3 1252.5,1118.2 1253.0,1114.2 1253.5,1110.2 1254.0,1106.3 1254.5,1102.4 1255.0,1098.6 1255.5,1094.8 1256.0,1091.1 1256.5,1087.4 1257.0,1083.7 1257.5,1080.1 1258.0,1076.5 1258.5,1072.9 1259.0,1069.4 1259.5,1065.8 1260.0,1062.3 1260.5,1058.8 1261.0,1055.3 1261.5,1051.8 1262.0,1048.3 1262.5,1044.8 1263.0,1041.3 1263.5,1037.8 1264.0,1034.3 1264.5,1030.8 1265.0,1027.3 1265.5,1023.7 1266.0,1020.1 1266.5,1016.5 1267.0,1012.8 1267.5,1009.2 1268.0,1005.7 1268.5,1002.1 1269.0,998.6 1269.5,995.2 1270.0,991.7 1270.5,988.3 1271.0,984.9 1271.5,981.6 1272.0,978.2 1272.5,974.9 1273.0,971.6 1273.5,968.3 1274.0,965.0 1274.5,961.7 1275.0,958.4 1275.5,955.1 1276.0,951.8 1276.5,948.5 1277.0,945.1 1277.5,941.8 1278.0,938.4 1278.5,935.0 1279.0,931.6 1279.5,928.1 1280.0,924.6 1280.5,921.1 1281.0,917.5 1281.5,913.8 1282.0,910.2 1282.5,906.5 1283.0,902.7 1283.5,898.9 1284.0,895.0 1284.5,891.0 1285.0,887.0 1285.5,883.0 1286.0,878.8 1286.5,874.4 1287.0,869.8 1287.5,865.0 1288.0,860.2 1288.5,855.3 1289.0,850.4 1289.5,845.5 1290.0,840.6 1290.5,835.9 1291.0,831.3 1291.5,826.8 1292.0,822.6 1292.5,818.6 1293.0,814.7 1293.5,810.9 1294.0,807.2 1294.5,803.6 1295.0,800.0 1295.5,796.5 1296.0,793.1 1296.5,789.7 1297.0,786.3 1297.5,783.1 1298.0,779.8 1298.5,776.6 1299.0,773.5 1299.5,770.3 1300.0,767.2 1300.5,764.1 1301.0,761.0 1301.5,758.0 1302.0,754.9 1302.5,752.0 1303.0,749.0 1303.5,746.1 1304.0,743.3 1304.5,740.4 1305.0,737.7 1305.5,734.9 1306.0,732.1 1306.5,729.4 1307.0,726.7 1307.5,724.0 1308.0,721.3 1308.5,718.7 1309.0,716.0 1309.5,713.3 1310.0,710.6 1310.5,707.9 1311.0,705.2 1311.5,702.5 1312.0,699.8 1312.5,697.0 1313.0,694.2 1313.5,691.4 1314.0,688.5 1314.5,685.7 1315.0,682.8 1315.5,679.9 1316.0,677.0 1316.5,674.1 1317.0,671.2 1317.5,668.3 1318.0,665.4 1318.5,662.6 1319.0,659.7 1319.5,656.9 1320.0,654.1 1320.5,651.3 1321.0,648.6 1321.5,645.9 1322.0,643.3 1322.5,640.7 1323.0,638.2 1323.5,635.6 1324.0,633.1 1324.5,630.7 1325.0,628.2 1325.5,625.8 1326.0,623.4 1326.5,621.1 1327.0,618.8 1327.5,616.5 1328.0,614.2 1328.5,612.0 1329.0,609.8 1329.5,607.6 1330.0,605.5 1330.5,603.4 1331.0,601.4 1331.5,599.4 1332.0,597.4 1332.5,595.5 1333.0,593.6 1333.5,591.8 1334.0,590.0 1334.5,588.2 1335.0,586.5 1335.5,584.7 1336.0,583.0 1336.5,581.4 1337.0,579.7 1337.5,578.0 1338.0,576.4 1338.5,574.8 1339.0,573.2 1339.5,571.6 1340.0,570.0 1340.5,568.5 1341.0,567.0 1341.5,565.5 1342.0,564.0 1342.5,562.5 1343.0,561.0 1343.5,559.5 1344.0,558.1 1344.5,556.6 1345.0,555.2 1345.5,553.8 1346.0,552.3 1346.5,550.9 1347.0,549.4 1347.5,548.0 1348.0,546.5 1348.5,545.0 1349.0,543.5 1349.5,542.0 1350.0,540.5 1350.5,539.0 1351.0,537.4 1351.5,535.9 1352.0,534.3 1352.5,532.7 1353.0,531.1 1353.5,529.5 1354.0,527.9 1354.5,526.3 1355.0,524.7 1355.5,523.1 1356.0,521.4 1356.5,519.8 1357.0,518.2 1357.5,516.5 1358.0,514.9 1358.5,513.3 1359.0,511.7 1359.5,510.1 1360.0,508.5 1360.5,506.9 1361.0,505.3 1361.5,503.8 1362.0,502.2 1362.5,500.7 1363.0,499.2 1363.5,497.7 1364.0,496.2 1364.5,494.7 1365.0,493.3 1365.5,491.9 1366.0,490.5 1366.5,489.2 1367.0,487.8 1367.5,486.5 1368.0,485.2 1368.5,484.0 1369.0,482.8 1369.5,481.6 1370.0,480.4 1370.5,479.3 1371.0,478.2 1371.5,477.2 1372.0,476.1 1372.5,475.1 1373.0,474.1 1373.5,473.1 1374.0,472.2 1374.5,471.2 1375.0,470.3 1375.5,469.3 1376.0,468.4 1376.5,467.4 1377.0,466.5 1377.5,465.5 1378.0,464.5 1378.5,463.5 1379.0,462.4 1379.5,461.4 1380.0,460.2 1380.5,459.1 1381.0,457.9 1381.5,456.7 1382.0,455.4 1382.5,454.2 1383.0,452.8 1383.5,451.5 1384.0,450.2 1384.5,448.8 1385.0,447.4 1385.5,446.0 1386.0,444.6 1386.5,443.2 1387.0,441.9 1387.5,440.5 1388.0,439.1 1388.5,437.7 1389.0,436.3 1389.5,434.8 1390.0,433.4 1390.5,432.0 1391.0,430.6 1391.5,429.1 1392.0,427.7 1392.5,426.2 1393.0,424.8 1393.5,423.3 1394.0,421.8 1394.5,420.3 1395.0,418.9 1395.5,417.4 1396.0,415.9 1396.5,414.4 1397.0,412.9 1397.5,411.4 1398.0,409.9 1398.5,408.5 1399.0,407.1 1399.5,405.7 1400.0,404.4 1400.5,403.1 1401.0,401.9 1401.5,400.7 1402.0,399.7 1402.5,398.6 1403.0,397.7 1403.5,396.8 1404.0,395.9 1404.5,395.1 1405.0,394.4 1405.5,393.7 1406.0,393.0 1406.5,392.4 1407.0,391.8 1407.5,391.2 1408.0,390.7 1408.5,390.2 1409.0,389.7 1409.5,389.2 1410.0,388.7 1410.5,388.3 1411.0,387.8 1411.5,387.4 1412.0,386.9 1412.5,386.5 1413.0,386.0 1413.5,385.5 1414.0,385.0 1414.5,384.5 1415.0,384.0 1415.5,383.4 1416.0,382.8 1416.5,382.2 1417.0,381.5 1417.5,380.8 1418.0,380.1 1418.5,379.3 1419.0,378.4 1419.5,377.6 1420.0,376.7 1420.5,375.7 1421.0,374.7 1421.5,373.7 1422.0,372.6 1422.5,371.6 1423.0,370.4 1423.5,369.3 1424.0,368.1 1424.5,367.0 1425.0,365.8 1425.5,364.5 1426.0,363.3 1426.5,362.1 1427.0,360.8 1427.5,359.6 1428.0,358.4 1428.5,357.2 1429.0,355.9 1429.5,354.7 1430.0,353.6 1430.5,352.4 1431.0,351.3 1431.5,350.2 1432.0,349.1 1432.5,348.0 1433.0,347.0 1433.5,346.1 1434.0,345.1 1434.5,344.2 1435.0,343.4 1435.5,342.6 1436.0,341.8 1436.5,341.1 1437.0,340.4 1437.5,339.8 1438.0,339.2 1438.5,338.6 1439.0,338.1 1439.5,337.6 1440.0,337.1 1440.5,336.7 1441.0,336.3 1441.5,335.9 1442.0,335.5 1442.5,335.2 1443.0,334.8 1443.5,334.5 1444.0,334.1 1444.5,333.8 1445.0,333.5 1445.5,333.1 1446.0,332.8 1446.5,332.4 1447.0,332.0 1447.5,331.6 1448.0,331.2 1448.5,330.7 1449.0,330.2 1449.5,329.7 1450.0,329.2 1450.5,328.6 1451.0,328.0 1451.5,327.3 1452.0,326.6 1452.5,325.9 1453.0,325.1 1453.5,324.3 1454.0,323.5 1454.5,322.6 1455.0,321.7 1455.5,320.8 1456.0,319.8 1456.5,318.8 1457.0,317.8 1457.5,316.8 1458.0,315.7 1458.5,314.7 1459.0,313.6 1459.5,312.5 1460.0,311.4 1460.5,310.3 1461.0,309.2 1461.5,308.2 1462.0,307.1 1462.5,306.0 1463.0,305.0 1463.5,304.0 1464.0,303.0 1464.5,302.1 1465.0,301.1 1465.5,300.3 1466.0,299.4 1466.5,298.6 1467.0,297.8 1467.5,297.1 1468.0,296.4 1468.5,295.8 1469.0,295.2 1469.5,294.6 1470.0,294.1 1470.5,293.6 1471.0,293.2 1471.5,292.8 1472.0,292.5 1472.5,292.1 1473.0,291.9 1473.5,291.6 1474.0,291.4 1474.5,291.2 1475.0,291.0 1475.5,290.9 1476.0,290.7 1476.5,290.6 1477.0,290.4 1477.5,290.3 1478.0,290.2 1478.5,290.0 1479.0,289.9 1479.5,289.7 1480.0,289.5 1480.5,289.3 1481.0,289.1 1481.5,288.9 1482.0,288.6 1482.5,288.3 1483.0,287.9 1483.5,287.5 1484.0,287.1 1484.5,286.7 1485.0,286.2 1485.5,285.6 1486.0,285.0 1486.5,284.4 1487.0,283.8 1487.5,283.1 1488.0,282.3 1488.5,281.6 1489.0,280.8 1489.5,279.9 1490.0,279.1 1490.5,278.2 1491.0,277.3 1491.5,276.4 1492.0,275.4 1492.5,274.5 1493.0,273.5 1493.5,272.6 1494.0,271.6 1494.5,270.7 1495.0,269.7 1495.5,268.8 1496.0,267.9 1496.5,267.0 1497.0,266.1 1497.5,265.3 1498.0,264.5 1498.5,263.7 1499.0,263.0 1499.5,262.3 1500.0,261.6 1500.5,261.0 1501.0,260.4 1501.5,259.9 1502.0,259.4 1502.5,259.0 1503.0,258.6 1503.5,258.3 1504.0,258.0 1504.5,257.7 1505.0,257.5 1505.5,257.3 1506.0,257.2 1506.5,257.1 1507.0,257.0 1507.5,257.0 1508.0,257.0 1508.5,257.0 1509.0,257.0 1509.5,257.1 1510.0,257.1 1510.5,257.2 1511.0,257.2 1511.5,257.2 1512.0,257.3 1512.5,257.3 1513.0,257.3 1513.5,257.3 1514.0,257.3 1514.5,257.2 1515.0,257.1 1515.5,256.9 1516.0,256.8 1516.5,256.5 1517.0,256.3 1517.5,256.0 1518.0,255.6 1518.5,255.2 1519.0,254.8 1519.5,254.3 1520.0,253.8 1520.5,253.2 1521.0,252.6 1521.5,251.9 1522.0,251.2 1522.5,250.4 1523.0,249.7 1523.5,248.8 1524.0,248.0 1524.5,247.1 1525.0,246.2 1525.5,245.3 1526.0,244.4 1526.5,243.4 1527.0,242.5 1527.5,241.6 1528.0,240.6 1528.5,239.7 1529.0,238.8 1529.5,237.9 1530.0,237.1 1530.5,236.3 1531.0,235.5 1531.5,234.7 1532.0,234.0 1532.5,233.3 1533.0,232.7 1533.5,232.1 1534.0,231.5 1534.5,231.1 1535.0,230.6 1535.5,230.3 1536.0,229.9 1536.5,229.7 1537.0,229.4 1537.5,229.3 1538.0,229.1 1538.5,229.1 1539.0,229.0 1539.5,229.0 1540.0,229.1 1540.5,229.1 1541.0,229.2 1541.5,229.4 1542.0,229.5 1542.5,229.7 1543.0,229.9 1543.5,230.1 1544.0,230.3 1544.5,230.5 1545.0,230.7 1545.5,230.8 1546.0,231.0 1546.5,231.1 1547.0,231.3 1547.5,231.4 1548.0,231.4 1548.5,231.4 1549.0,231.4 1549.5,231.4 1550.0,231.3 1550.5,231.1 1551.0,230.9 1551.5,230.7 1552.0,230.4 1552.5,230.0 1553.0,229.6 1553.5,229.2 1554.0,228.7 1554.5,228.1 1555.0,227.5 1555.5,226.9 1556.0,226.2 1556.5,225.5 1557.0,224.7 1557.5,224.0 1558.0,223.2 1558.5,222.3 1559.0,221.5 1559.5,220.6 1560.0,219.8 1560.5,218.9 1561.0,218.1 1561.5,217.2 1562.0,216.4 1562.5,215.6 1563.0,214.8 1563.5,214.0 1564.0,213.3 1564.5,212.6 1565.0,211.9 1565.5,211.3 1566.0,210.7 1566.5,210.2 1567.0,209.7 1567.5,209.3 1568.0,208.9 1568.5,208.6 1569.0,208.4 1569.5,208.2 1570.0,208.0 1570.5,207.9 1571.0,207.9 1571.5,207.9 1572.0,208.0 1572.5,208.1 1573.0,208.2 1573.5,208.4 1574.0,208.7 1574.5,208.9 1575.0,209.2 1575.5,209.5 1576.0,209.8 1576.5,210.2 1577.0,210.5 1577.5,210.9 1578.0,211.2 1578.5,211.5 1579.0,211.9 1579.5,212.2 1580.0,212.4 1580.5,212.7 1581.0,212.9 1581.5,213.1 1582.0,213.2 1582.5,213.3 1583.0,213.3 1583.5,213.3 1584.0,213.2 1584.5,213.1 1585.0,212.9 1585.5,212.7 1586.0,212.4 1586.5,212.0 1587.0,211.6 1587.5,211.1 1588.0,210.6 1588.5,210.0 1589.0,209.4 1589.5,208.7 1590.0,208.0 1590.5,207.2 1591.0,206.4 1591.5,205.6 1592.0,204.8 1592.5,203.9 1593.0,203.0 1593.5,202.1 1594.0,201.2 1594.5,200.3 1595.0,199.4 1595.5,198.6 1596.0,197.7 1596.5,196.9 1597.0,196.1 1597.5,195.3 1598.0,194.6 1598.5,193.9 1599.0,193.3 1599.5,192.7 1600.0,192.2 1600.5,191.7 1601.0,191.3 1601.5,191.0 1602.0,190.7 1602.5,190.5 1603.0,190.3 1603.5,190.2 1604.0,190.2 1604.5,190.2 1605.0,190.3 1605.5,190.5 1606.0,190.6 1606.5,190.9 1607.0,191.2 1607.5,191.5 1608.0,191.8 1608.5,192.2 1609.0,192.6 1609.5,193.0 1610.0,193.4 1610.5,193.9 1611.0,194.3 1611.5,194.7 1612.0,195.1 1612.5,195.5 1613.0,195.9 1613.5,196.2 1614.0,196.5 1614.5,196.8 1615.0,197.0 1615.5,197.2 1616.0,197.3 1616.5,197.4 1617.0,197.4 1617.5,197.4 1618.0,197.2 1618.5,197.1 1619.0,196.8 1619.5,196.5 1620.0,196.2 1620.5,195.8 1621.0,195.3 1621.5,194.7 1622.0,194.1 1622.5,193.5 1623.0,192.8 1623.5,192.1 1624.0,191.3 1624.5,190.5 1625.0,189.7 1625.5,188.8 1626.0,188.0 1626.5,187.1 1627.0,186.2 1627.5,185.3 1628.0,184.4 1628.5,183.6 1629.0,182.7 1629.5,181.9 1630.0,181.1 1630.5,180.3 1631.0,179.6 1631.5,178.9 1632.0,178.3 1632.5,177.7 1633.0,177.2 1633.5,176.8 1634.0,176.4 1634.5,176.0 1635.0,175.8 1635.5,175.6 1636.0,175.4 1636.5,175.3 1637.0,175.3 1637.5,175.4 1638.0,175.5 1638.5,175.6 1639.0,175.9 1639.5,176.1 1640.0,176.4 1640.5,176.8 1641.0,177.2 1641.5,177.6 1642.0,178.1 1642.5,178.5 1643.0,179.0 1643.5,179.5 1644.0,180.0 1644.5,180.5 1645.0,181.0 1645.5,181.4 1646.0,181.9 1646.5,182.3 1647.0,182.6 1647.5,183.0 1648.0,183.3 1648.5,183.5 1649.0,183.7 1649.5,183.9 1650.0,184.0 1650.5,184.0 1651.0,184.0 1651.5,183.9 1652.0,183.7 1652.5,183.5 1653.0,183.2 1653.5,182.8 1654.0,182.4 1654.5,181.9 1655.0,181.4 1655.5,180.8 1656.0,180.2 1656.5,179.5 1657.0,178.8 1657.5,178.0 1658.0,177.2 1658.5,176.4 1659.0,175.6 1659.5,174.7 1660.0,173.8 1660.5,172.9 1661.0,172.1 1661.5,171.2 1662.0,170.4 1662.5,169.5 1663.0,168.7 1663.5,168.0 1664.0,167.2 1664.5,166.5 1665.0,165.9 1665.5,165.3 1666.0,164.8 1666.5,164.3 1667.0,163.9 1667.5,163.5 1668.0,163.2 1668.5,163.0 1669.0,162.8 1669.5,162.7 1670.0,162.7 1670.5,162.7 1671.0,162.8 1671.5,162.9 1672.0,163.1 1672.5,163.4 1673.0,163.7 1673.5,164.1 1674.0,164.4 1674.5,164.9 1675.0,165.3 1675.5,165.8 1676.0,166.3 1676.5,166.8 1677.0,167.4 1677.5,167.9 1678.0,168.4 1678.5,168.9 1679.0,169.4 1679.5,169.8 1680.0,170.3 1680.5,170.7 1681.0,171.0 1681.5,171.4 1682.0,171.6 1682.5,171.8 1683.0,172.0 1683.5,172.1 1684.0,172.1 1684.5,172.1 1685.0,172.0 1685.5,171.9 1686.0,171.7 1686.5,171.4 1687.0,171.0 1687.5,170.6 1688.0,170.2 1688.5,169.6 1689.0,169.0 1689.5,168.4 1690.0,167.7 1690.5,167.0 1691.0,166.3 1691.5,165.5 1692.0,164.7 1692.5,163.8 1693.0,163.0 1693.5,162.1 1694.0,161.3 1694.5,160.4 1695.0,159.6 1695.5,158.7 1696.0,157.9 1696.5,157.2 1697.0,156.4 1697.5,155.7 1698.0,155.0 1698.5,154.4 1699.0,153.9 1699.5,153.3 1700.0,152.9 1700.5,152.5 1701.0,152.2 1701.5,151.9 1702.0,151.7 1702.5,151.6 1703.0,151.5 1703.5,151.5 1704.0,151.6 1704.5,151.7 1705.0,151.9 1705.5,152.2 1706.0,152.5 1706.5,152.8 1707.0,153.2 1707.5,153.6 1708.0,154.1 1708.5,154.6 1709.0,155.1 1709.5,155.6 1710.0,156.2 1710.5,156.7 1711.0,157.3 1711.5,157.8 1712.0,158.4 1712.5,158.9 1713.0,159.4 1713.5,159.8 1714.0,160.3 1714.5,160.6 1715.0,161.0 1715.5,161.3 1716.0,161.5 1716.5,161.7 1717.0,161.8 1717.5,161.9 1718.0,161.8 1718.5,161.8 1719.0,161.6 1719.5,161.4 1720.0,161.1 1720.5,160.8 1721.0,160.4 1721.5,159.9 1722.0,159.4 1722.5,158.8 1723.0,158.2 1723.5,157.5 1724.0,156.8 1724.5,156.1 1725.0,155.3 1725.5,154.5 1726.0,153.7 1726.5,152.8 1727.0,152.0 1727.5,151.1 1728.0,150.3 1728.5,149.4 1729.0,148.6 1729.5,147.8 1730.0,147.0 1730.5,146.3 1731.0,145.6 1731.5,145.0 1732.0,144.4 1732.5,143.8 1733.0,143.3 1733.5,142.9 1734.0,142.6 1734.5,142.3 1735.0,142.0 1735.5,141.9 1736.0,141.8 1736.5,141.8 1737.0,141.8 1737.5,141.9 1738.0,142.1 1738.5,142.3 1739.0,142.6 1739.5,142.9 1740.0,143.3 1740.5,143.8 1741.0,144.3 1741.5,144.8 1742.0,145.3 1742.5,145.9 1743.0,146.5 1743.5,147.1 1744.0,147.7 1744.5,148.3 1745.0,148.9 1745.5,149.5 1746.0,150.1 1746.5,150.6 1747.0,151.1 1747.5,151.6 1748.0,152.1 1748.5,152.4 1749.0,152.8 1749.5,153.1 1750.0,153.3 1750.5,153.5 1751.0,153.6 1751.5,153.6 1752.0,153.6 1752.5,153.5 1753.0,153.3 1753.5,153.1 1754.0,152.8 1754.5,152.4 1755.0,152.0 1755.5,151.5 1756.0,150.9 1756.5,150.4 1757.0,149.7 1757.5,149.0 1758.0,148.3 1758.5,147.6 1759.0,146.8 1759.5,146.0 1760.0,145.1 1760.5,144.3 1761.0,143.5 1761.5,142.7 1762.0,141.8 1762.5,141.0 1763.0,140.3 1763.5,139.5 1764.0,138.8 1764.5,138.1 1765.0,137.5 1765.5,136.9 1766.0,136.4 1766.5,135.9 1767.0,135.5 1767.5,135.2 1768.0,134.9 1768.5,134.7 1769.0,134.5 1769.5,134.4 1770.0,134.4 1770.5,134.5 1771.0,134.6 1771.5,134.7 1772.0,135.0 1772.5,135.3 1773.0,135.6 1773.5,136.0 1774.0,136.5 1774.5,137.0 1775.0,137.5 1775.5,138.0 1776.0,138.6 1776.5,139.2 1777.0,139.8 1777.5,140.4 1778.0,141.1 1778.5,141.7 1779.0,142.2 1779.5,142.8 1780.0,143.4 1780.5,143.9 1781.0,144.3 1781.5,144.8 1782.0,145.2 1782.5,145.5 1783.0,145.8 1783.5,146.0 1784.0,146.1 1784.5,146.2 1785.0,146.2 1785.5,146.2 1786.0,146.1 1786.5,145.9 1787.0,145.6 1787.5,145.3 1788.0,144.9 1788.5,144.5 1789.0,144.0 1789.5,143.4 1790.0,142.8 1790.5,142.1 1791.0,141.4 1791.5,140.6 1792.0,139.8 1792.5,139.0 1793.0,138.2 1793.5,137.3 1794.0,136.5 1794.5,135.6 1795.0,134.7 1795.5,133.9 1796.0,133.0 1796.5,132.2 1797.0,131.5 1797.5,130.7 1798.0,130.0 1798.5,129.3 1799.0,128.7 1799.5,128.2 1800.0,127.7 1800.5,127.3 1801.0,126.9 1801.5,126.6 1802.0,126.4 1802.5,126.2 1803.0,126.1 1803.5,126.1 1804.0,126.2 1804.5,126.3 1805.0,126.5 1805.5,126.8 1806.0,127.1 1806.5,127.4 1807.0,127.9 1807.5,128.3 1808.0,128.9 1808.5,129.4 1809.0,130.0 1809.5,130.6 1810.0,131.3 1810.5,131.9 1811.0,132.6 1811.5,133.2 1812.0,133.9 1812.5,134.5 1813.0,135.2 1813.5,135.8 1814.0,136.3 1814.5,136.8 1815.0,137.3 1815.5,137.8 1816.0,138.2 1816.5,138.5 1817.0,138.8 1817.5,139.0 1818.0,139.1 1818.5,139.2 1819.0,139.2 1819.5,139.1 1820.0,139.0 1820.5,138.8 1821.0,138.5 1821.5,138.1 1822.0,137.7 1822.5,137.2 1823.0,136.7 1823.5,136.1 1824.0,135.5 1824.5,134.8 1825.0,134.0 1825.5,133.3 1826.0,132.5 1826.5,131.6 1827.0,130.8 1827.5,129.9 1828.0,129.1 1828.5,128.2 1829.0,127.4 1829.5,126.6 1830.0,125.7 1830.5,125.0 1831.0,124.2 1831.5,123.5 1832.0,122.8 1832.5,122.2 1833.0,121.7 1833.5,121.2 1834.0,120.7 1834.5,120.4 1835.0,120.1 1835.5,119.8 1836.0,119.7 1836.5,119.6 1837.0,119.6 1837.5,119.6 1838.0,119.7 1838.5,119.9 1839.0,120.2 1839.5,120.5 1840.0,120.9 1840.5,121.3 1841.0,121.8 1841.5,122.3 1842.0,122.9 1842.5,123.5 1843.0,124.1 1843.5,124.7 1844.0,125.4 1844.5,126.1 1845.0,126.7 1845.5,127.4 1846.0,128.1 1846.5,128.7 1847.0,129.3 1847.5,129.9 1848.0,130.4 1848.5,130.9 1849.0,131.4 1849.5,131.8 1850.0,132.1 1850.5,132.4 1851.0,132.6 1851.5,132.7 1852.0,132.8 1852.5,132.8 1853.0,132.7 1853.5,132.6 1854.0,132.4 1854.5,132.1 1855.0,131.7 1855.5,131.3 1856.0,130.8 1856.5,130.2 1857.0,129.6 1857.5,128.9 1858.0,128.2 1858.5,127.5 1859.0,126.7 1859.5,125.8 1860.0,125.0 1860.5,124.1 1861.0,123.2 1861.5,122.3 1862.0,121.4 1862.5,120.6 1863.0,119.7 1863.5,118.8 1864.0,118.0 1864.5,117.3 1865.0,116.5 1865.5,115.8 1866.0,115.2 1866.5,114.6 1867.0,114.1 1867.5,113.6 1868.0,113.3 1868.5,112.9 1869.0,112.7 1869.5,112.5 1870.0,112.5 1870.5,112.4 1871.0,112.5 1871.5,112.6 1872.0,112.9 1872.5,113.1 1873.0,113.5 1873.5,113.9 1874.0,114.4 1874.5,114.9 1875.0,115.5 1875.5,116.1 1876.0,116.7 1876.5,117.4 1877.0,118.1 1877.5,118.8 1878.0,119.6 1878.5,120.3 1879.0,121.1 1879.5,121.8 1880.0,122.5 1880.5,123.2 1881.0,123.8 1881.5,124.4 1882.0,125.0 1882.5,125.5 1883.0,126.0 1883.5,126.4 1884.0,126.8 1884.5,127.1 1885.0,127.3 1885.5,127.4 1886.0,127.5 1886.5,127.5 1887.0,127.4 1887.5,127.2 1888.0,127.0 1888.5,126.7 1889.0,126.3 1889.5,125.9 1890.0,125.4 1890.5,124.8 1891.0,124.1 1891.5,123.5 1892.0,122.7 1892.5,122.0 1893.0,121.2 1893.5,120.3 1894.0,119.5 1894.5,118.6 1895.0,117.7 1895.5,116.8 1896.0,115.9 1896.5,115.1 1897.0,114.2 1897.5,113.4 1898.0,112.7 1898.5,111.9 1899.0,111.2 1899.5,110.6 1900.0,110.0 1900.5,109.5 1901.0,109.0 1901.5,108.6 1902.0,108.3 1902.5,108.1 1903.0,107.9 1903.5,107.8 1904.0,107.8 1904.5,107.9 1905.0,108.0 1905.5,108.2 1906.0,108.5 1906.5,108.8 1907.0,109.3 1907.5,109.7 1908.0,110.3 1908.5,110.9 1909.0,111.5 1909.5,112.1 1910.0,112.8 1910.5,113.6 1911.0,114.3 1911.5,115.1 1912.0,115.8 1912.5,116.6 1913.0,117.3 1913.5,118.0 1914.0,118.7 1914.5,119.4 1915.0,120.0 1915.5,120.6 1916.0,121.2 1916.5,121.6 1917.0,122.1 1917.5,122.4 1918.0,122.7 1918.5,122.9 1919.0,123.0 1919.5,123.1 1920.0,123.1 1920.5,123.0 1921.0,122.8 1921.5,122.6 1922.0,122.3 1922.5,121.8 1923.0,121.4 1923.5,120.8 1924.0,120.2 1924.5,119.6 1925.0,118.8 1925.5,118.1 1926.0,117.3 1926.5,116.4 1927.0,115.5 1927.5,114.6 1928.0,113.7 1928.5,112.8 1929.0,111.9 1929.5,111.0 1930.0,110.1 1930.5,109.2 1931.0,108.3 1931.5,107.5 1932.0,106.7 1932.5,106.0 1933.0,105.3 1933.5,104.7 1934.0,104.2 1934.5,103.7 1935.0,103.3 1935.5,102.9 1936.0,102.7 1936.5,102.5 1937.0,102.4 1937.5,102.4 1938.0,102.5 1938.5,102.6 1939.0,102.8 1939.5,103.1 1940.0,103.5 1940.5,103.9 1941.0,104.4 1941.5,104.9 1942.0,105.5 1942.5,106.2 1943.0,106.9 1943.5,107.6 1944.0,108.4 1944.5,109.2 1945.0,109.9 1945.5,110.7 1946.0,111.5 1946.5,112.3 1947.0,113.1 1947.5,113.8 1948.0,114.5 1948.5,115.2 1949.0,115.8 1949.5,116.4 1950.0,116.9 1950.5,117.3 1951.0,117.7 1951.5,118.0 1952.0,118.3 1952.5,118.5 1953.0,118.5 1953.5,118.5 1954.0,118.5 1954.5,118.3 1955.0,118.1 1955.5,117.8 1956.0,117.4 1956.5,116.9 1957.0,116.4 1957.5,115.8 1958.0,115.1 1958.5,114.4 1959.0,113.6 1959.5,112.8 1960.0,112.0 1960.5,111.1 1961.0,110.2 1961.5,109.2 1962.0,108.3 1962.5,107.4 1963.0,106.5 1963.5,105.5 1964.0,104.7 1964.5,103.8 1965.0,103.0 1965.5,102.2 1966.0,101.4 1966.5,100.8 1967.0,100.2 1967.5,99.6 1968.0,99.1 1968.5,98.7 1969.0,98.4 1969.5,98.1 1970.0,98.0 1970.5,97.9 1971.0,97.9 1971.5,97.9 1972.0,98.1 1972.5,98.3 1973.0,98.6 1973.5,99.0 1974.0,99.5 1974.5,100.0 1975.0,100.5 1975.5,101.2 1976.0,101.9 1976.5,102.6 1977.0,103.3 1977.5,104.1 1978.0,104.9 1978.5,105.7 1979.0,106.5 1979.5,107.4 1980.0,108.2 1980.5,109.0 1981.0,109.7 1981.5,110.4 1982.0,111.1 1982.5,111.8 1983.0,112.4 1983.5,112.9 1984.0,113.3 1984.5,113.7 1985.0,114.1 1985.5,114.3 1986.0,114.5 1986.5,114.6 1987.0,114.6 1987.5,114.5 1988.0,114.3 1988.5,114.1 1989.0,113.7 1989.5,113.3 1990.0,112.9 1990.5,112.3 1991.0,111.7 1991.5,111.0 1992.0,110.3 1992.5,109.5 1993.0,108.6 1993.5,107.8 1994.0,106.9 1994.5,105.9 1995.0,105.0 1995.5,104.0 1996.0,103.1 1996.5,102.1 1997.0,101.2 1997.5,100.3 1998.0,99.4 1998.5,98.6 1999.0,97.8 1999.5,97.1 2000.0,96.4 2000.5,95.8" fill="none" stroke="#e0302d" stroke-width="10.7" stroke-linejoin="round" stroke-linecap="butt"/>
<polyline points="253.5,68.9 253.5,68.9 259.0,68.9 264.4,69.0 269.9,69.0 275.4,69.0 280.8,69.1 286.3,69.1 291.7,69.1 297.2,69.2 302.7,69.2 308.1,69.3 313.6,69.3 319.0,69.3 324.5,69.4 330.0,69.4 335.4,69.5 340.9,69.5 346.3,69.6 351.8,69.6 357.3,69.6 362.7,69.7 368.2,69.7 373.6,69.8 379.1,69.8 384.6,69.9 390.0,69.9 395.5,70.0 400.9,70.1 406.4,70.1 411.9,70.2 417.3,70.2 422.8,70.3 428.2,70.3 433.7,70.4 439.2,70.5 444.6,70.5 450.1,70.6 455.5,70.7 461.0,70.7 466.5,70.8 471.9,70.9 477.4,70.9 482.8,71.0 488.3,71.1 493.8,71.2 499.2,71.3 504.7,71.3 510.1,71.4 515.6,71.5 521.1,71.6 526.5,71.7 532.0,71.8 537.4,71.9 542.9,72.0 548.4,72.1 553.8,72.2 559.3,72.3 564.7,72.4 570.2,72.5 575.7,72.6 581.1,72.7 586.6,72.8 592.0,73.0 597.5,73.1 603.0,73.2 608.4,73.4 613.9,73.5 619.3,73.6 624.8,73.8 630.3,73.9 635.7,74.1 641.2,74.2 646.6,74.4 652.1,74.6 657.6,74.7 663.0,74.9 668.5,75.1 673.9,75.3 679.4,75.5 684.9,75.7 690.3,75.9 695.8,76.1 701.2,76.3 706.7,76.5 712.2,76.8 717.6,77.0 723.1,77.3 728.5,77.5 734.0,77.8 739.5,78.0 744.9,78.3 750.4,78.6 755.8,78.9 761.3,79.2 766.8,79.6 772.2,79.9 777.7,80.3 783.1,80.6 788.6,81.0 794.1,81.4 799.5,81.8 805.0,82.2 810.4,82.7 815.9,83.1 821.4,83.6 826.8,84.1 832.3,84.6 837.7,85.2 843.2,85.7 848.7,86.3 854.1,86.9 859.6,87.6 865.0,88.2 870.5,88.9 876.0,89.7 881.4,90.4 886.9,91.2 892.3,92.1 897.8,93.0 903.3,93.9 908.7,94.9 914.2,95.9 919.6,97.0 925.1,98.1 930.6,99.3 936.0,100.6 941.5,101.9 946.9,103.4 952.4,104.9 957.9,106.5 963.3,108.1 968.8,109.9 974.2,111.8 979.7,113.9 985.2,116.0 990.6,118.3 996.1,120.8 1001.5,123.4 1007.0,126.2 1012.5,129.3 1017.9,132.5 1023.4,136.0 1028.8,139.8 1034.3,143.8 1039.8,148.2 1045.2,152.9 1050.7,158.1 1056.1,163.7 1061.6,169.8 1067.1,176.4 1072.5,183.7 1078.0,191.7 1083.4,200.4 1088.9,210.0 1094.4,220.6 1099.8,232.3 1105.3,245.3 1110.7,259.8 1116.2,275.8 1121.7,293.8 1127.1,313.8 1132.6,336.3 1138.0,361.6 1143.5,390.0 1149.0,422.0 1154.4,458.1 1159.9,498.8 1165.3,544.7 1170.8,596.4 1176.3,654.4 1181.7,719.2 1187.2,791.3 1192.6,870.7 1198.1,957.5 1203.6,1051.0 1209.0,1150.6 1214.6,1254.7 1220.8,1361.8 1224.9,1374.9 1230.4,1267.9 1236.3,1163.9 1241.8,1064.5 1247.2,971.1 1252.7,884.6 1258.2,805.3 1263.6,733.3 1269.1,668.5 1274.5,610.5 1280.0,558.8 1285.5,512.8 1290.9,471.9 1296.4,435.6 1301.8,403.3 1307.3,374.7 1312.8,349.1 1318.2,326.4 1323.7,306.0 1329.1,287.8 1334.6,271.4 1340.1,256.7 1345.5,243.4 1351.0,231.4 1356.4,220.6 1361.9,210.7 1367.4,201.7 1372.8,193.5 1378.3,186.0 1383.7,179.1 1389.2,172.8 1394.7,167.0 1400.1,161.6 1405.6,156.7 1411.0,152.1 1416.5,147.9 1422.0,143.9 1427.4,140.3 1432.9,136.9 1438.3,133.7 1443.8,130.7 1449.3,128.0 1454.7,125.3 1460.2,122.9 1465.6,120.6 1471.1,118.5 1476.6,116.4 1482.0,114.5 1487.5,112.7 1492.9,111.0 1498.4,109.4 1503.9,107.9 1509.3,106.4 1514.8,105.1 1520.2,103.8 1525.7,102.5 1531.2,101.4 1536.6,100.3 1542.1,99.2 1547.5,98.2 1553.0,97.2 1558.5,96.3 1563.9,95.4 1569.4,94.6 1574.8,93.8 1580.3,93.0 1585.8,92.3 1591.2,91.6 1596.7,90.9 1602.1,90.2 1607.6,89.6 1613.1,89.0 1618.5,88.4 1624.0,87.9 1629.4,87.4 1634.9,86.8 1640.4,86.3 1645.8,85.9 1651.3,85.4 1656.7,85.0 1662.2,84.6 1667.7,84.1 1673.1,83.7 1678.6,83.4 1684.0,83.0 1689.5,82.6 1695.0,82.3 1700.4,82.0 1705.9,81.6 1711.3,81.3 1716.8,81.0 1722.3,80.7 1727.7,80.4 1733.2,80.2 1738.6,79.9 1744.1,79.6 1749.6,79.4 1755.0,79.1 1760.5,78.9 1765.9,78.7 1771.4,78.5 1776.9,78.2 1782.3,78.0 1787.8,77.8 1793.2,77.6 1798.7,77.4 1804.2,77.2 1809.6,77.1 1815.1,76.9 1820.5,76.7 1826.0,76.5 1831.5,76.4 1836.9,76.2 1842.4,76.0 1847.8,75.9 1853.3,75.7 1858.8,75.6 1864.2,75.5 1869.7,75.3 1875.1,75.2 1880.6,75.0 1886.1,74.9 1891.5,74.8 1897.0,74.7 1902.4,74.5 1907.9,74.4 1913.4,74.3 1918.8,74.2 1924.3,74.1 1929.7,74.0 1935.2,73.9 1940.7,73.8 1946.1,73.7 1951.6,73.6 1957.0,73.5 1962.5,73.4 1968.0,73.3 1973.4,73.2 1978.9,73.1 1984.3,73.0 1989.8,72.9 1995.3,72.9 2000.5,72.8" fill="none" stroke="#14171a" stroke-width="11" stroke-linejoin="round" stroke-linecap="butt"/>
<rect x="293.9" y="1138.2" width="838.6" height="230.4" fill="#fff" stroke="#4a5054" stroke-width="2.2"/>
<line x1="310" y1="1199" x2="471" y2="1199" stroke="#db302e" stroke-width="10.8"/>
<line x1="310" y1="1308.8" x2="471" y2="1308.8" stroke="#14171a" stroke-width="10.8"/>
<text class="lg" y="1208.8"><tspan x="484.8">Loaded WR-28 |</tspan><tspan x="932.6" font-style="italic">S</tspan><tspan x="968" dy="33.5" font-size="54">21</tspan><tspan x="1022.3" dy="-33.5">|</tspan></text>
<text class="lg" y="1317.4"><tspan x="484.8">Equivalent Circuit |</tspan><tspan x="1011.6" font-style="italic">S</tspan><tspan x="1047" dy="33.5" font-size="54">21</tspan><tspan x="1102.3" dy="-33.5">|</tspan></text>
<line x1="1115.3" y1="431.8" x2="1368.6" y2="431.8" stroke="#e0201b" stroke-width="5.6"/><polyline points="1349.3,444.3 1368.6,431.8 1349.3,419.3" fill="none" stroke="#e0201b" stroke-width="5.6" stroke-linejoin="miter"/><polyline points="1134.6,419.3 1115.3,431.8 1134.6,444.3" fill="none" stroke="#e0201b" stroke-width="5.6" stroke-linejoin="miter"/>
<line x1="1159.6" y1="440.2" x2="1288.6" y2="440.2" stroke="#0c0d0f" stroke-width="5.4"/><polyline points="1271.2,452.8 1288.6,440.2 1271.2,427.6" fill="none" stroke="#0c0d0f" stroke-width="5.4" stroke-linejoin="miter"/><polyline points="1177.0,427.6 1159.6,440.2 1177.0,452.8" fill="none" stroke="#0c0d0f" stroke-width="5.4" stroke-linejoin="miter"/>
<line x1="977.0" y1="282.4" x2="1217.9" y2="420.1" stroke="#e0201b" stroke-width="5.4"/><polyline points="1193.4,420.4 1217.9,420.1 1205.7,398.8" fill="none" stroke="#e0201b" stroke-width="5.4" stroke-linejoin="miter"/>
<line x1="1400.6" y1="556.4" x2="1236.4" y2="457.1" stroke="#0c0d0f" stroke-width="5.8"/><polyline points="1260.9,457.3 1236.4,457.1 1248.0,478.6" fill="none" stroke="#0c0d0f" stroke-width="5.8" stroke-linejoin="miter"/>
<line x1="1141.4" y1="1111.2" x2="1197.8" y2="1356.7" stroke="#e0201b" stroke-width="5.0"/><polyline points="1178.9,1336.7 1197.8,1356.7 1206.1,1330.5" fill="none" stroke="#e0201b" stroke-width="5.0" stroke-linejoin="miter"/>
<line x1="1373.2" y1="1277.3" x2="1243.7" y2="1369.3" stroke="#0c0d0f" stroke-width="5.8"/><polyline points="1253.7,1346.9 1243.7,1369.3 1268.1,1367.2" fill="none" stroke="#0c0d0f" stroke-width="5.8" stroke-linejoin="miter"/>
<text class="an" x="890.3" y="284" text-anchor="middle" fill="#e0201b" font-size="47.8">3 dB</text><text class="an" x="890.3" y="338.8" text-anchor="middle" fill="#e0201b" font-size="47.8">Bandwidth</text><text class="an" x="890.3" y="392" text-anchor="middle" fill="#e0201b" font-size="47.8">2.44 GHz</text>
<text class="an" x="1511.5" y="557.9" text-anchor="middle" fill="#1c1f22" font-size="48.5">3 dB</text><text class="an" x="1511.5" y="613.8" text-anchor="middle" fill="#1c1f22" font-size="48.5">Bandwidth</text><text class="an" x="1511.5" y="666" text-anchor="middle" fill="#1c1f22" font-size="48.5">1.25 GHz</text>
<text class="an" x="939.8" y="1052" text-anchor="start" fill="#e0201b" font-size="47.9">32.88 GHz</text><text class="an" x="939.8" y="1106.2" text-anchor="start" fill="#e0201b" font-size="47.9">-28.96 dB</text>
<text class="an" x="1389.8" y="1259.6" text-anchor="start" fill="#1c1f22" font-size="48.2">32.90 GHz</text><text class="an" x="1389.8" y="1314.8" text-anchor="start" fill="#1c1f22" font-size="48.2">-29.14 dB</text>
</svg></body></html>
